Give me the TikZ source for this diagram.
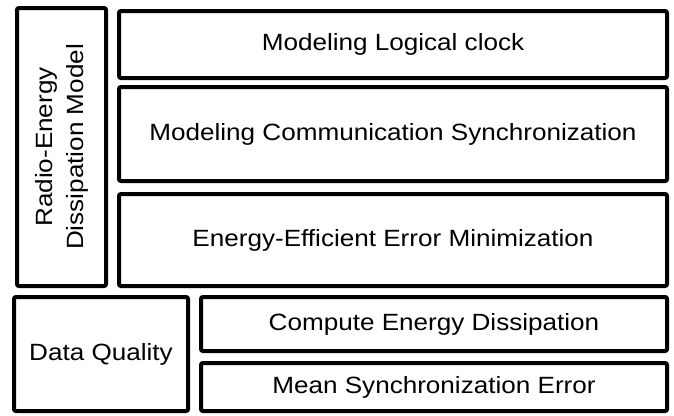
\documentclass[tikz,border=0pt]{standalone}
\usepackage{fontspec}
\setmainfont[FakeStretch=1.11]{Liberation Sans}
\usepackage{tikz}
\usetikzlibrary{positioning}
\tikzset{every picture/.style={line width=4pt},blk/.style={draw,rounded corners=2pt,inner sep=0pt,align=center,font=\fontsize{23.5}{29}\selectfont}}

\begin{document}
\begin{tikzpicture}[x=1pt,y=-1pt]
\useasboundingbox (0,0) rectangle (674,415);
\node (rdm) [blk, minimum width=89pt, minimum height=278pt] at (61.5,147) {};
\node [rotate=90, align=center, font=\fontsize{23.5}{31}\selectfont] at (rdm.center) {Radio-Energy\\Dissipation Model};
\node (mlc) [blk, minimum width=548pt, minimum height=67pt] at (393,44.5) {Modeling Logical clock};
\node (mcs) [blk, minimum width=548pt, minimum height=94pt] at (393,134) {Modeling Communication Synchronization};
\node (eem) [blk, minimum width=548pt, minimum height=92pt] at (393,240) {Energy-Efficient Error Minimization};
\node (dq) [blk, minimum width=174pt, minimum height=114pt] at (101,354) {Data Quality};
\node (ced) [blk, minimum width=466pt, minimum height=54pt] at (434,324) {Compute Energy Dissipation};
\node (mse) [blk, minimum width=466pt, minimum height=48pt] at (434,387) {Mean Synchronization Error};
\end{tikzpicture}
\end{document}
